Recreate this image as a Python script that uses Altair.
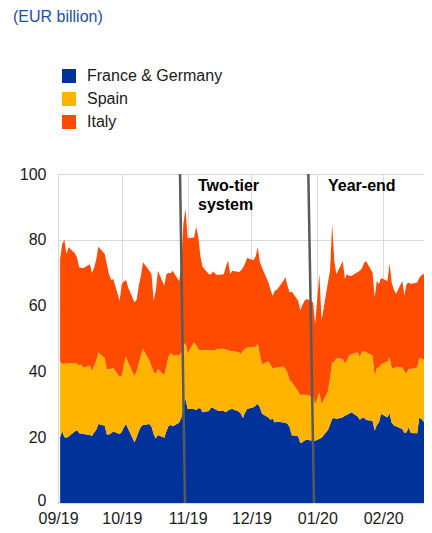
import altair as alt
import pandas as pd

countries = ["France & Germany", "Spain", "Italy"]
colors = ["#003299", "#FFB400", "#FF4B00"]

# business days 2 Sep 2019 - 24 Feb 2020 (TARGET2 closed on 1 Jan)
dates = [d for d in pd.bdate_range("2019-09-02", "2020-02-24") if d != pd.Timestamp("2020-01-01")]

france_germany = [
    20, 21.8, 20, 19.8, 20.2,
    21.8, 22.1, 21.2, 21.1, 21,
    20.7, 20.4, 21.4, 22.3, 24,
    23.5, 20.8, 20.8, 21.2, 21.7,
    21,
    21.6, 23, 24, 22.6,
    18.5, 20, 21.8, 23.2, 23.7,
    24, 23.2, 21, 19.6, 20.7,
    19.8, 21.8, 23.4, 23.7, 23.3,
    24.4, 25.8, 29, 31.6, 28.6,
    28.6, 28.2, 28.8, 28.8, 27.6,
    28, 29, 28.9, 28.5, 28.1,
    28, 27.6, 28.1, 28.5, 28.6,
    27.8, 27.2, 25.8, 27.4, 28.6,
    29.1, 29.6, 30.1, 29, 27.1,
    26, 25.3, 25.7, 24.5, 24.8,
    24.5, 24.4, 24, 23, 20.6,
    20.3, 18.2, 18.5, 19, 19.2,
    18.9, 18.9,
    19.5, 19.8,
    22.2, 23.8, 25.6, 25.8, 25.5,
    26.1, 26.5, 26.8, 27.1, 27.6,
    26.3, 25.3, 25.8, 26, 25.2,
    25, 22, 23.7, 24.5, 27.1,
    26, 27.3, 24.4, 23.6, 23.3,
    22.5, 21.3, 21.5, 23, 21.3,
    21.2, 26, 25.5, 24.8, 24.5,
    23.8,
]

spain = [
    23.0, 20.5, 22.3, 22.6, 22.3,
    20.7, 20.2, 20.6, 21.0, 20.1,
    21.1, 19.8, 20.4, 20.9, 21.8,
    20.5, 19.9, 19.9, 19.6, 19.3,
    17.4,
    17.2, 19.0, 20.5, 20.1,
    20.1, 20.1, 20.6, 21.6, 23.1,
    19.3, 18.3, 19.0, 19.6, 20.0,
    19.0, 19.7, 21.1, 21.9, 21.7,
    20.4, 19.7, 18.5, 17.2, 16.9,
    20.2, 19.8, 18.0, 17.6, 18.9,
    18.5, 17.4, 17.4, 18.0, 18.7,
    18.9, 19.0, 18.4, 17.7, 17.6,
    18.0, 18.1, 20.5, 19.5, 18.7,
    18.3, 18.0, 18.2, 16.0, 15.1,
    17.0, 16.7, 15.1, 16.7, 16.3,
    17.0, 16.4, 15.6, 14.3, 16.2,
    13.7, 14.5, 14.5, 13.9, 13.7,
    13.3, 11.2,
    14.1, 10.3,
    11.8, 14.2, 17.0, 17.2, 18.5,
    17.7, 15.9, 16.7, 17.8, 17.6,
    19.5, 19.0, 20.2, 20.1, 20.6,
    19.8, 16.7, 17.3, 16.7, 15.1,
    17.0, 17.0, 16.6, 17.2, 18.1,
    18.7, 18.7, 17.9, 17.8, 19.4,
    20.0, 18.0, 18.5, 18.8, 18.8,
    18.4,
]

italy = [
    31.2, 36.4, 37.7, 33.3, 35.2,
    33.3, 32.2, 29.8, 29.3, 30.3,
    30.8, 29.7, 29.7, 30.8, 32.1,
    31.7, 31.8, 28.8, 27.0, 27.1,
    23.1,
    27.8, 25.3, 23.3, 22.8,
    22.4, 21.7, 23.6, 24.2, 26.4,
    27.3, 28.0, 21.5, 25.3, 29.9,
    27.2, 28.0, 25.5, 24.2, 25.6,
    22.6, 26.5, 37.5, 40.6, 35.0,
    31.9, 36.0, 34.2, 28.6, 25.3,
    23.0, 23.1, 24.1, 23.2, 22.5,
    22.6, 25.2, 27.2, 23.4, 24.4,
    24.4, 25.3, 25.2, 25.9, 27.2,
    26.4, 27.4, 29.4, 28.2, 29.3,
    24.0, 22.8, 22.2, 23.3, 23.7,
    26.0, 27.8, 26.4, 26.7, 27.5,
    27.5, 25.8, 27.2, 28.6, 29.1,
    28.8, 24.3,
    36.0, 25.3,
    33.0, 32.6, 42.2, 30.5, 25.6,
    29.7, 25.7, 26.1, 24.1, 23.8,
    24.4, 26.3, 25.3, 26.9, 27.7,
    25.2, 23.8, 26.5, 25.4, 26.2,
    24.5, 28.5, 26.0, 24.2, 22.1,
    26.3, 23.0, 27.2, 26.2, 25.9,
    25.8, 24.5, 25.2, 26.0, 26.4,
    28.2,
]

tick_months = [(2019, 9), (2019, 10), (2019, 11), (2019, 12), (2020, 1), (2020, 2)]
event_labels = ["Two-tier", "system", "Year-end"]
event_rules = {
    "x1": ["2019-10-28T10:00:00", "2019-12-27T19:00:00"],
    "x2": ["2019-10-30T18:00:00", "2019-12-30T11:00:00"],
    "y1": [100, 100],
    "y2": [0, 0],
}

FONT = "Liberation Sans"

rows = []
for i, name in enumerate(countries):
    vals = [france_germany, spain, italy][i]
    for d, v in zip(dates, vals):
        rows.append({"date": d, "country": name, "value": v, "ord": i})
df = pd.DataFrame(rows)

x_scale = alt.Scale(domain=[alt.DateTime(year=2019, month=9, date=1),
                            alt.DateTime(year=2020, month=2, date=20, hours=5)])
y_scale = alt.Scale(domain=[0, 100], nice=False)

area = alt.Chart(df).mark_area(clip=True).encode(
    x=alt.X("date:T", scale=x_scale, title=None,
            axis=alt.Axis(values=[alt.DateTime(year=y, month=m, date=1) for y, m in tick_months],
                          format="%m/%y", labelFlush=False, labelOverlap=False,
                          grid=True, ticks=False, labelPadding=7)),
    y=alt.Y("value:Q", stack="zero", scale=y_scale, title=None,
            axis=alt.Axis(values=[0, 20, 40, 60, 80, 100], grid=True, ticks=False,
                          labelPadding=12,
                          labelOffset={"condition": {"test": "datum.value === 0", "value": -3},
                                       "value": 0})),
    color=alt.Color("country:N",
                    scale=alt.Scale(domain=countries, range=colors),
                    legend=alt.Legend(orient="none", legendX=3, legendY=-106, title=None,
                                      symbolType="square", symbolSize=196,
                                      symbolStrokeWidth=0, labelFontSize=16,
                                      labelFont=FONT, labelColor="#1a1a1a",
                                      rowPadding=7, labelOffset=10, padding=0)),
    order=alt.Order("ord:Q", sort="ascending"),
)

rules = alt.Chart(pd.DataFrame(event_rules)).mark_rule(color="#595959", strokeWidth=2.5).encode(
    x=alt.X("x1:T", scale=x_scale),
    x2="x2:T",
    y=alt.Y("y1:Q", scale=y_scale),
    y2="y2:Q",
)

def label(txt, x, y, color="#000000", weight="bold"):
    return alt.Chart(pd.DataFrame({"t": [txt]})).mark_text(
        align="left", baseline="alphabetic", font=FONT, fontSize=16,
        fontWeight=weight, color=color,
    ).encode(x=alt.value(x), y=alt.value(y), text="t:N")

t1 = label(event_labels[0], 140, 17)
t2 = label(event_labels[1], 140, 36)
t3 = label(event_labels[2], 270, 17)
title = label("(EUR billion)", -45, -152, color="#1f4ea3", weight="normal")

chart = alt.layer(area, rules, t1, t2, t3, title).properties(
    width=366, height=329,
    padding={"left": 50, "top": 166, "right": 0, "bottom": 22},
    autosize=alt.AutoSizeParams(type="none"),
    background="white",
).configure_view(strokeWidth=0).configure_axis(
    labelFont=FONT, labelFontSize=16, labelColor="#1a1a1a",
    gridColor="#d9d9d9", gridWidth=1, domainColor="#d9d9d9", domainWidth=1,
)

chart.save("out.html", embed_options={"renderer": "svg", "actions": False})
